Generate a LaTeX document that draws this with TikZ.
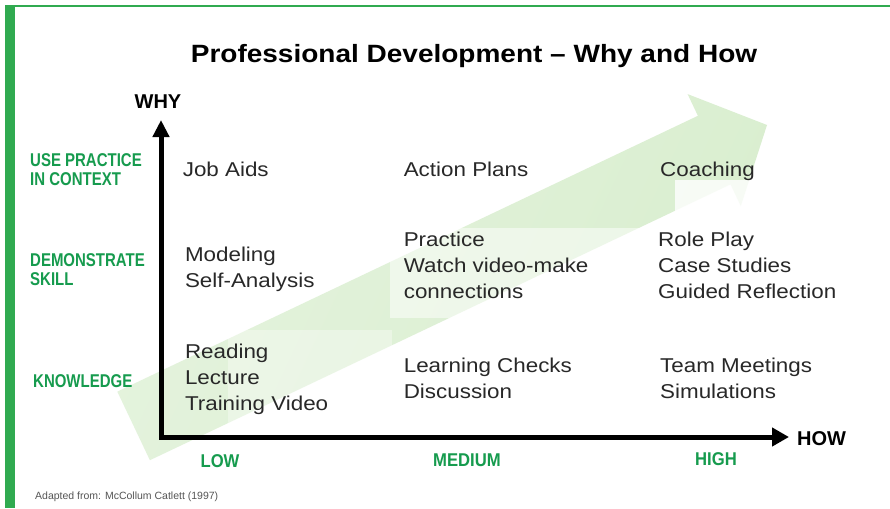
\documentclass[tikz,border=0pt]{standalone}
\usepackage{fontspec}
\setmainfont{Liberation Sans}
\newfontfamily\bodyfont{Liberation Sans}[FakeStretch=1.12]
\newfontfamily\titlefont{Liberation Sans}[FakeStretch=1.12]
\newfontfamily\sidefont{Liberation Sans}[FakeStretch=0.81]
\newfontfamily\levelfont{Liberation Sans}[FakeStretch=0.9]
\usetikzlibrary{arrows.meta}

\definecolor{frame}{RGB}{48,170,80}
\definecolor{leaf}{RGB}{22,155,78}
\definecolor{growth}{RGB}{217,238,207}
\definecolor{ink}{RGB}{40,40,40}
\definecolor{note}{RGB}{85,85,85}

\begin{document}
\begin{tikzpicture}[x=1pt,y=-1pt,
  item/.style={anchor=base west, inner sep=0pt, text=ink,
    font=\bodyfont\fontsize{20}{26}\selectfont},
  side/.style={anchor=base west, inner sep=0pt, text=leaf,
    font=\sidefont\bfseries\fontsize{18.5}{19}\selectfont},
  level/.style={anchor=base, inner sep=0pt, text=leaf,
    font=\levelfont\bfseries\fontsize{18.5}{19}\selectfont},
  axislabel/.style={inner sep=0pt, text=black,
    font=\bfseries\fontsize{20}{24}\selectfont},
  axisline/.style={line width=5pt, draw=black,
    {Triangle[length=17pt,width=16pt]}-{Triangle[length=17pt,width=18pt]}},
  panel/.style={fill=white}
]
\useasboundingbox (0,0) rectangle (890,508);
\fill[white] (0,0) rectangle (890,508);

% slide frame: thin top rule and thick left bar
\fill[frame] (5,4.7) rectangle (890,6.8);
\fill[frame] (5,4.7) rectangle (15,508);

% broad growth arrow in the background, paler towards its tail
\shade[left color=growth!70!white, right color=growth, shading angle=65]
  (117.3,391.6) -- (697.9,115.8) -- (687.6,94.1) -- (767,125)
  -- (740.8,206.1) -- (730.5,184.4) -- (149.9,460.2) -- cycle;

% translucent text panels lying over the arrow
\fill[panel, fill opacity=0.5] (390,228) rectangle (676,318);
\fill[panel, fill opacity=0.8] (675,180) rectangle (860,318);
\fill[panel, fill opacity=0.35] (228,330) rectangle (392,428);

% title
\node[anchor=base, inner sep=0pt, text=black,
  font=\titlefont\bfseries\fontsize{25}{30}\selectfont]
  (title) at (474,63) {Professional Development – Why and How};

% axes
\coordinate (ytip) at (161,120);
\coordinate (origin) at (161,437);
\coordinate (xtip) at (789,437);
\draw[axisline] (ytip) -- (origin) -- (xtip);
\node[axislabel, anchor=base] (why) at (158,108) {WHY};
\node[axislabel, anchor=base west] (how) at (797,445) {HOW};

% levels on the vertical axis
\node[side] (usectx) at (30,166.7)
  {\begin{tabular}[t]{@{}l@{}}USE PRACTICE\\IN CONTEXT\end{tabular}};
\node[side] (demo) at (30,266.7)
  {\begin{tabular}[t]{@{}l@{}}DEMONSTRATE\\SKILL\end{tabular}};
\node[side] (know) at (33,387) {KNOWLEDGE};

% levels on the horizontal axis
\node[level] (low) at (220,467) {LOW};
\node[level] (medium) at (467,466) {MEDIUM};
\node[level] (high) at (716,465) {HIGH};

% activities, top row
\node[item] (jobaids) at (182.6,176.7) {Job Aids};
\node[item] (actionplans) at (403.6,176.7) {Action Plans};
\node[item] (coaching) at (660,176.7) {Coaching};

% activities, middle row
\node[item] (modeling) at (184.8,261)
  {\begin{tabular}[t]{@{}l@{}}Modeling\\Self-Analysis\end{tabular}};
\node[item] (practice) at (403.6,246.7)
  {\begin{tabular}[t]{@{}l@{}}Practice\\Watch video-make\\connections\end{tabular}};
\node[item] (roleplay) at (658,246.7)
  {\begin{tabular}[t]{@{}l@{}}Role Play\\Case Studies\\Guided Reflection\end{tabular}};

% activities, bottom row
\node[item] (reading) at (184.8,358.3)
  {\begin{tabular}[t]{@{}l@{}}Reading\\Lecture\\Training Video\end{tabular}};
\node[item] (learning) at (403.6,372.7)
  {\begin{tabular}[t]{@{}l@{}}Learning Checks\\Discussion\end{tabular}};
\node[item] (team) at (660,372.7)
  {\begin{tabular}[t]{@{}l@{}}Team Meetings\\Simulations\end{tabular}};

% source line
\node[anchor=base west, inner sep=0pt, text=note,
  font=\fontsize{10.5}{12}\selectfont]
  (source) at (35,499) {Adapted from: McCollum Catlett (1997)};
\end{tikzpicture}
\end{document}
